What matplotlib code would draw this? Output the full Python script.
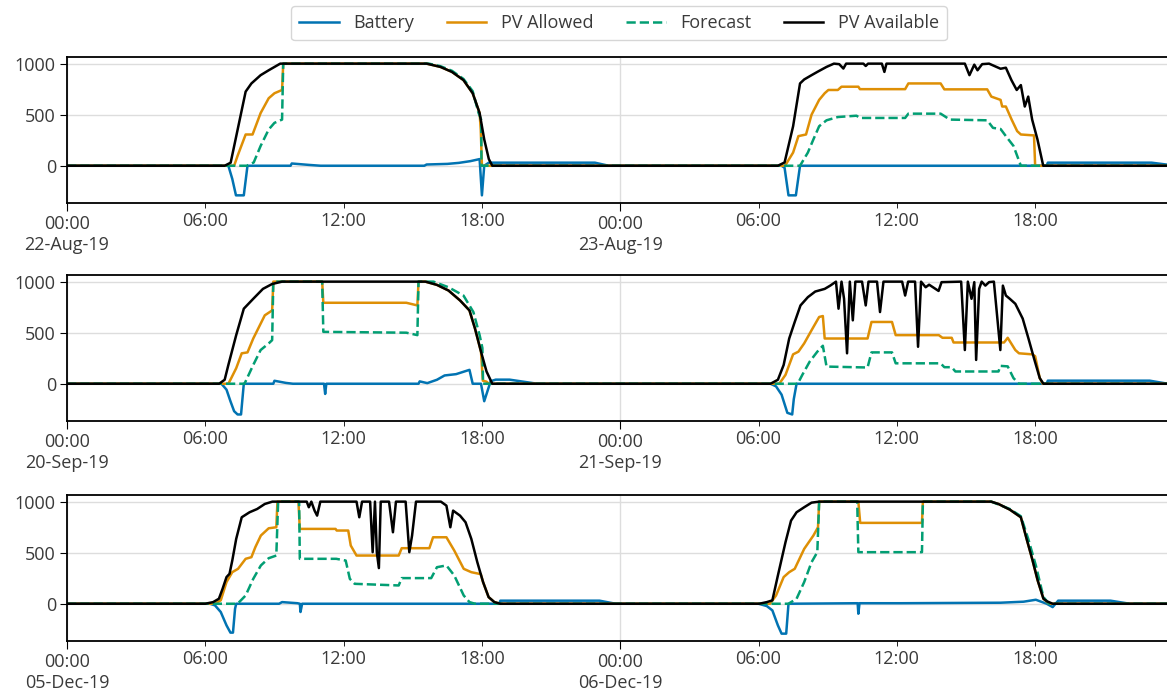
import numpy as np
import pandas as pd
import matplotlib
matplotlib.use("Agg")
import matplotlib.pyplot as plt
import matplotlib.dates as mdates

plt.rcParams['font.family'] = ['Open Sans', 'DejaVu Sans']
plt.rcParams['font.size'] = 13

# colours (seaborn colorblind)
c_batt = '#0173B2'
c_allow = '#DE8F05'
c_fc = '#029E73'
c_avail = 'black'

days = ['2019-08-22', '2019-09-20', '2019-12-05']

# hours since 00:00 of the first day, and values (W)
# ---- 22-Aug-19 / 23-Aug-19
p1_avail_h = [0, 6.84, 7.1, 7.75, 8.0, 8.4, 8.75, 9.25, 15.6, 16.2, 16.7, 17.2, 17.6, 17.9, 18.1, 18.3, 18.45,
              30.84, 31.13, 31.5, 31.8, 31.98, 32.3, 32.55, 32.95, 33.27, 33.5, 33.68, 33.8, 34.55, 34.65, 34.75,
              35.35, 35.46, 35.55, 38.95, 39.15, 39.36, 39.5, 39.7, 40.0, 40.25, 40.5, 40.73, 40.97, 41.2, 41.38,
              41.55, 41.7, 41.87, 42.1, 42.35, 47.75]
p1_avail_v = [0, 0, 30, 726, 806, 887, 935, 1000, 1000, 968, 919, 839, 710, 516, 258, 65, 0,
              0, 32, 387, 806, 845, 887, 919, 968, 1000, 995, 952, 1000, 1000, 977, 1000,
              1000, 919, 1000, 1000, 887, 990, 935, 995, 1000, 975, 950, 960, 839, 742, 790,
              580, 677, 452, 258, 0, 0]
p1_allow_h = [0, 7.25, 7.4, 7.75, 8.05, 8.4, 8.75, 9.0, 9.33, 9.38, 15.6, 16.2, 16.7, 17.2, 17.6, 17.9, 17.95, 18.0,
              31.15, 31.5, 31.73, 32.06, 32.3, 32.63, 32.87, 33.03, 33.44, 33.6, 34.33, 34.4, 36.36, 36.5, 37.9,
              38.06, 39.92, 40.1, 40.5, 40.57, 40.73, 40.98, 41.22, 41.38, 41.95, 42.0, 47.75]
p1_allow_v = [0, 0, 97, 306, 306, 516, 661, 710, 742, 1000, 1000, 968, 919, 839, 710, 516, 350, 0,
              0, 129, 290, 306, 500, 645, 710, 742, 742, 774, 774, 750, 750, 806, 806,
              748, 748, 677, 645, 580, 580, 452, 339, 306, 297, 0, 0]
p1_fc_h = [0, 7.8, 8.1, 8.4, 8.75, 9.0, 9.33, 9.38, 15.7, 16.2, 16.7, 17.2, 17.6, 17.85, 17.97, 17.98,
           31.8, 32.14, 32.38, 32.63, 32.95, 33.44, 34.25, 34.4, 36.36, 36.5, 37.9, 38.3, 39.92, 40.17, 40.5,
           40.73, 41.06, 41.38, 47.75]
p1_fc_v = [0, 0, 32, 194, 355, 420, 452, 1000, 1000, 975, 930, 850, 730, 520, 450, 0,
           0, 129, 258, 387, 445, 477, 490, 468, 468, 510, 510, 452, 445, 371, 360,
           290, 194, 0, 0]
p1_batt_h = [0, 7.0, 7.17, 7.33, 7.67, 7.83, 9.7, 9.75, 10.5, 11.0, 15.5, 15.6, 16.5, 17.0, 17.5, 17.9, 18.0,
             18.1, 18.3, 22.9, 23.5, 31.0, 31.13, 31.3, 31.62, 31.8, 42.5, 42.55, 47.05, 47.75]
p1_batt_v = [0, 0, -129, -290, -290, 0, 0, 22, 8, 0, 0, 12, 18, 28, 45, 65, -290,
             0, 30, 30, 0, 0, -20, -290, -290, 0, 0, 30, 30, 10]

# ---- 20-Sep-19 / 21-Sep-19
p2_avail_h = [0, 6.6, 6.84, 7.0, 7.34, 7.67, 8.08, 8.5, 8.9, 9.33, 15.55, 16.05, 16.55, 17.05, 17.46, 17.7, 17.96,
              18.2, 18.45,
              30.52, 30.84, 31.09, 31.33, 31.57, 31.82, 32.14, 32.46, 32.87, 33.11, 33.36, 33.47, 33.6, 33.71,
              33.84, 33.96, 34.09, 34.2, 34.49, 34.65, 34.77, 35.14, 35.27, 35.42, 36.23, 36.36, 36.49, 36.79,
              36.92, 37.05, 37.25, 37.4, 37.81, 37.94, 38.79, 38.95, 39.08, 39.24, 39.36, 39.44, 39.57, 39.68,
              39.84, 40.0, 40.21, 40.49, 40.6, 40.73, 40.9, 41.14, 41.46, 41.71, 41.95, 42.2, 42.36, 47.75]
p2_avail_v = [0, 0, 39, 184, 476, 735, 832, 929, 977, 1000, 1000, 968, 913, 816, 718, 540, 314,
              120, 0,
              0, 39, 184, 443, 605, 767, 848, 903, 929, 961, 1000, 735, 1000, 832,
              298, 1000, 621, 1000, 1000, 767, 1000, 1000, 702, 1000, 1000, 864, 1000, 1000,
              362, 1000, 945, 970, 909, 995, 1000, 330, 1000, 832, 995, 233, 929, 1000,
              961, 995, 1000, 330, 961, 864, 832, 783, 638, 443, 249, 55, 0, 0]
p2_allow_h = [0, 7.0, 7.09, 7.34, 7.58, 7.83, 8.08, 8.58, 8.9, 8.95, 11.07, 11.12, 14.72, 15.2, 15.25, 15.55,
              16.05, 16.55, 17.05, 17.46, 17.7, 17.96, 18.04, 18.2, 18.3,
              30.9, 31.17, 31.5, 31.73, 31.98, 32.3, 32.63, 32.79, 32.87, 34.73, 34.9, 35.79, 35.95, 37.82,
              37.98, 38.38, 38.46, 40.65, 40.81, 41.14, 41.3, 41.87, 42.0, 42.2, 42.33, 47.75]
p2_allow_v = [0, 0, 39, 152, 298, 307, 443, 670, 718, 1000, 1000, 793, 793, 767, 1000, 1000,
              968, 913, 816, 718, 540, 314, 30, 20, 0,
              0, 87, 288, 314, 395, 524, 654, 663, 443, 443, 605, 605, 476, 476,
              450, 450, 404, 404, 450, 330, 298, 288, 270, 55, 0, 0]
p2_fc_h = [0, 7.7, 8.08, 8.4, 8.75, 8.9, 8.95, 11.07, 11.12, 14.72, 15.2, 15.25, 15.9, 16.55, 17.2, 17.63, 17.9,
           18.02, 18.05,
           31.7, 31.9, 32.22, 32.55, 32.79, 32.95, 34.73, 34.9, 35.79, 35.95, 37.9, 38.06, 38.38, 38.54,
           40.41, 40.49, 40.81, 41.06, 41.3, 47.75]
p2_fc_v = [0, 0, 184, 330, 395, 427, 1000, 1000, 508, 500, 476, 1000, 1000, 945, 864, 702, 476,
           350, 0,
           0, 87, 217, 314, 372, 168, 159, 307, 307, 200, 200, 162, 162, 120,
           120, 175, 170, 55, 0, 0]
p2_batt_h = [0, 6.7, 6.92, 7.09, 7.25, 7.4, 7.55, 7.67, 8.95, 9.0, 9.5, 9.8, 11.15, 11.2, 11.25, 15.25, 15.3,
             15.63, 16.05, 16.38, 16.88, 17.46, 17.6, 17.96, 18.1, 18.38, 18.6, 19.2, 20.4,
             30.52, 30.76, 31.0, 31.25, 31.46, 31.53, 31.65, 42.5, 42.55, 46.97, 47.75]
p2_batt_v = [0, 0, -58, -171, -269, -301, -301, 0, 0, 29, 8, 0, 0, -100, 0, 0, 23,
             6, 39, 81, 94, 136, 0, 0, -171, 25, 40, 40, 0,
             0, -26, -107, -285, -301, -150, 0, 0, 30, 30, 0]

# ---- 05-Dec-19 / 06-Dec-19
p3_avail_h = [0, 6.0, 6.34, 6.59, 6.75, 6.92, 7.05, 7.17, 7.34, 7.58, 7.92, 8.25, 8.58, 8.91, 10.4, 10.49, 10.6,
              10.74, 10.85, 10.99, 12.56, 12.68, 12.8, 13.15, 13.26, 13.36, 13.44, 13.53, 13.61, 13.97, 14.14,
              14.27, 14.69, 14.85, 14.97, 15.14, 16.22, 16.46, 16.63, 16.75, 17.05, 17.29, 17.54, 17.8, 18.05,
              18.29, 18.54, 18.79,
              30.03, 30.36, 30.6, 30.84, 31.17, 31.41, 31.65, 31.98, 32.3, 32.63, 40.09, 40.41, 40.9, 41.38,
              41.63, 41.87, 42.11, 42.36, 42.52, 42.76, 47.75]
p3_avail_v = [0, 0, 16, 49, 147, 261, 293, 423, 635, 847, 896, 928, 977, 1000, 1000, 945, 1000,
              912, 863, 1000, 1000, 847, 1000, 1000, 505, 1000, 505, 349, 1000, 1000, 700,
              1000, 1000, 505, 668, 1000, 1000, 961, 749, 912, 863, 798, 635, 407, 212,
              65, 16, 0,
              0, 16, 33, 277, 603, 814, 896, 945, 990, 1000, 1000, 977, 922, 847,
              635, 440, 228, 49, 23, 0, 0]
p3_allow_h = [0, 6.4, 6.67, 6.92, 7.17, 7.42, 7.75, 8.0, 8.17, 8.41, 8.75, 9.08, 9.13, 10.04, 10.1, 11.65, 11.7,
              12.2, 12.31, 12.56, 14.39, 14.52, 15.72, 15.88, 16.46, 16.8, 17.21, 17.54, 17.88, 17.95, 18.05,
              18.29, 18.54, 18.79,
              30.5, 30.76, 31.09, 31.33, 31.57, 31.98, 32.38, 32.58, 32.63, 34.33, 34.41, 37.09, 37.13, 40.09,
              40.41, 40.9, 41.38, 41.63, 41.87, 42.11, 42.36, 42.6, 47.75]
p3_allow_v = [0, 0, 33, 212, 309, 342, 440, 456, 554, 668, 739, 749, 1000, 1000, 733, 733, 717,
              717, 570, 472, 472, 544, 544, 651, 651, 521, 342, 309, 293, 290, 212,
              65, 16, 0,
              0, 81, 261, 309, 342, 537, 668, 749, 1000, 1000, 792, 792, 1000, 1000,
              977, 922, 847, 635, 440, 228, 49, 0, 0]
p3_fc_h = [0, 7.4, 7.75, 8.08, 8.41, 8.75, 9.08, 9.16, 10.07, 10.1, 11.68, 12.09, 12.27, 12.48, 14.39, 14.52,
           15.8, 16.05, 16.46, 16.8, 17.21, 17.46, 17.7,
           31.3, 31.65, 31.98, 32.3, 32.55, 32.63, 34.28, 34.33, 37.09, 37.13, 40.1, 40.9, 41.38, 41.7, 42.03,
           42.36, 42.6, 47.75]
p3_fc_v = [0, 0, 81, 244, 375, 446, 472, 1000, 1000, 440, 440, 423, 244, 195, 179, 251,
           251, 358, 375, 277, 81, 16, 0,
           0, 49, 212, 407, 505, 1000, 1000, 505, 505, 1000, 1000, 928, 857, 635, 375,
           65, 0, 0]
p3_batt_h = [0, 6.2, 6.42, 6.67, 6.92, 7.09, 7.2, 7.29, 7.34, 9.2, 9.33, 10.0, 10.1, 10.13, 10.2, 18.75, 18.8,
             23.1, 23.8, 30.0, 30.36, 30.6, 30.84, 31.0, 31.2, 31.3, 34.3, 34.33, 34.38, 36.2, 40.5, 41.5,
             42.03, 42.5, 42.76, 43.0, 45.27, 46.1, 47.75]
p3_batt_v = [0, 0, -16, -81, -212, -283, -283, -50, 0, 0, 16, 5, 0, -81, 0, 0, 30,
             30, 0, 0, -23, -65, -212, -293, -293, 0, 5, -98, 5, 5, 10, 20,
             39, 0, -33, 30, 30, 0, 0]

panels = [
    (p1_batt_h, p1_batt_v, p1_allow_h, p1_allow_v, p1_fc_h, p1_fc_v, p1_avail_h, p1_avail_v),
    (p2_batt_h, p2_batt_v, p2_allow_h, p2_allow_v, p2_fc_h, p2_fc_v, p2_avail_h, p2_avail_v),
    (p3_batt_h, p3_batt_v, p3_allow_h, p3_allow_v, p3_fc_h, p3_fc_v, p3_avail_h, p3_avail_v),
]


def to_time(day, hours):
    return pd.Timestamp(day) + pd.to_timedelta(np.array(hours, dtype=float), unit='h')


fig = plt.figure(figsize=(11.67, 6.96), dpi=100)
tops = [57, 275, 495]
height = 146
text_col = '#3a3a3a'

for i, (day, p) in enumerate(zip(days, panels)):
    bh, bv, ah, av, fh, fv, vh, vv = p
    ax = fig.add_axes([67 / 1167, 1 - (tops[i] + height) / 696, 1.0 - 67 / 1167, height / 696])
    ax.plot(to_time(day, bh), bv, color=c_batt, lw=1.8, label='Battery')
    ax.plot(to_time(day, ah), av, color=c_allow, lw=1.8, label='PV Allowed')
    ax.plot(to_time(day, fh), fv, color=c_fc, lw=1.8, ls='--', label='Forecast')
    ax.plot(to_time(day, vh), vv, color=c_avail, lw=1.8, label='PV Available')

    ax.set_xlim(pd.Timestamp(day), pd.Timestamp(day) + pd.Timedelta(hours=47.72))
    ax.set_ylim(-365, 1065)
    ax.set_yticks([0, 500, 1000])
    ax.xaxis.set_major_locator(mdates.DayLocator())
    ax.xaxis.set_major_formatter(mdates.DateFormatter('%H:%M\n%d-%b-%y'))
    ax.xaxis.set_minor_locator(mdates.HourLocator(byhour=[6, 12, 18]))
    ax.xaxis.set_minor_formatter(mdates.DateFormatter('%H:%M'))
    ax.tick_params(which='both', colors='black', labelcolor=text_col, labelsize=13)
    ax.tick_params(axis='x', which='major', length=6, pad=2.5)
    ax.tick_params(axis='x', which='minor', length=3.5, pad=3)
    ax.tick_params(axis='y', length=5, pad=3)
    ax.grid(True, which='major', color='#dddddd', lw=1)
    ax.set_axisbelow(True)
    ax.spines['right'].set_visible(False)
    for s in ['left', 'bottom', 'top']:
        ax.spines[s].set_linewidth(1.3)
    if i == 0:
        handles, labels = ax.get_legend_handles_labels()

leg = fig.legend(handles, labels, loc='center', bbox_to_anchor=(0.5304, 0.9665), ncol=4,
                 fontsize=13, handlelength=2.2, columnspacing=1.8, borderpad=0.45)
for t in leg.get_texts():
    t.set_color(text_col)

fig.savefig('out.png', dpi=100)
